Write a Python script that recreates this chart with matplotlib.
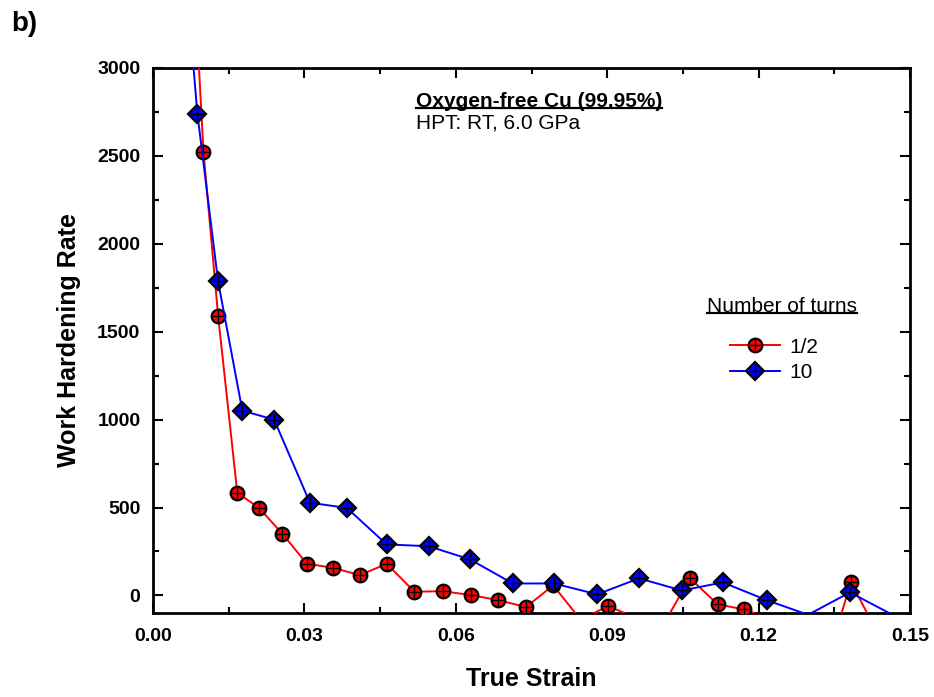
import matplotlib
matplotlib.use("Agg")
import matplotlib.pyplot as plt
from matplotlib.lines import Line2D
from matplotlib.legend_handler import HandlerTuple
from matplotlib.transforms import IdentityTransform
from matplotlib.ticker import MultipleLocator, FormatStrFormatter

plt.rcParams['font.family'] = ['Liberation Sans', 'DejaVu Sans']

# Data: 1/2 turn
strain_half = [0.0079, 0.0100, 0.0129, 0.0167, 0.0210, 0.0256, 0.0305, 0.0357, 0.0410,
               0.0463, 0.0518, 0.0574, 0.0630, 0.0684, 0.0739, 0.0793, 0.0847, 0.0902,
               0.0956, 0.1011, 0.1064, 0.1119, 0.1172, 0.1226, 0.1279, 0.1332, 0.1383, 0.1437]
whr_half = [3650, 2524, 1591, 584, 498, 352, 180, 157, 115,
            180, 21, 24, 2, -27, -66, 57, -137, -61,
            -126, -167, 98, -51, -80, -136, -300, -410, 76, -222]

# Data: 10 turns
strain_ten = [0.0068, 0.0088, 0.0129, 0.0177, 0.0240, 0.0311, 0.0384, 0.0463, 0.0546,
              0.0628, 0.0713, 0.0795, 0.0880, 0.0963, 0.1048, 0.1129, 0.1217, 0.1298,
              0.1381, 0.1464]
whr_ten = [3420, 2739, 1786, 1051, 1000, 527, 498, 290, 280,
           205, 68, 68, 6, 97, 28, 74, -28, -110,
           17, -108]

labels = ["1/2", "10"]

YMIN, YMAX = -100, 3000

W, H = 934, 697
fig = plt.figure(figsize=(W / 100, H / 100), dpi=100)
ax = fig.add_axes([153 / W, 1 - 613 / H, (910 - 153) / W, (613 - 68) / H])


def visible(xs, ys):
    pts = [(x, y) for x, y in zip(xs, ys) if YMIN <= y <= YMAX]
    return [p[0] for p in pts], [p[1] for p in pts]


series = [
    (strain_half, whr_half, '#FF0000', 'o', 9.8, 3),
    (strain_ten, whr_ten, '#0000FF', 'D', 8.8, 4),
]
handles = []
for xs, ys, col, mk, ms, z in series:
    ln, = ax.plot(xs, ys, color=col, lw=1.4, zorder=z)
    vx, vy = visible(xs, ys)
    mkr, = ax.plot(vx, vy, ls='none', marker=mk, ms=ms, mfc=col, mec='black',
                   mew=1.6, zorder=z + 0.1)
    pl, = ax.plot(vx, vy, ls='none', marker='+', ms=ms * 0.9, color='black',
                  mew=1.0, zorder=z + 0.2)
    handles.append((ln, mkr, pl))

ax.set_xlim(0, 0.15)
ax.set_ylim(YMIN, YMAX)
ax.xaxis.set_major_locator(MultipleLocator(0.03))
ax.xaxis.set_minor_locator(MultipleLocator(0.015))
ax.yaxis.set_major_locator(MultipleLocator(500))
ax.yaxis.set_minor_locator(MultipleLocator(250))
ax.xaxis.set_major_formatter(FormatStrFormatter('%.2f'))
ax.tick_params(which='both', direction='in', top=True, right=True, width=1.5)
ax.tick_params(which='major', length=7, labelsize=14)
ax.tick_params(axis='x', which='major', pad=11)
ax.tick_params(axis='y', which='major', pad=9)
ax.tick_params(which='minor', length=4)
for lab in ax.get_xticklabels() + ax.get_yticklabels():
    lab.set_fontweight('bold')
for sp in ax.spines.values():
    sp.set_linewidth(2)

ax.set_xlabel('True Strain', fontsize=18, fontweight='bold', labelpad=16)
ax.set_ylabel('Work Hardening Rate', fontsize=18, fontweight='bold', labelpad=12)

t1 = ax.text(0.347, 0.939, 'Oxygen-free Cu (99.95%)', transform=ax.transAxes,
             fontsize=15, fontweight='bold', ha='left', va='center')
ax.text(0.347, 0.899, 'HPT: RT, 6.0 GPa', transform=ax.transAxes,
        fontsize=15, ha='left', va='center')
t2 = ax.text(0.732, 0.563, 'Number of turns', transform=ax.transAxes,
             fontsize=15, ha='left', va='center')

leg = ax.legend(handles, labels,
                handler_map={tuple: HandlerTuple(ndivide=1, pad=0)},
                loc='upper left', bbox_to_anchor=(0.762, 0.505), frameon=False,
                fontsize=15, handlelength=2.4, handletextpad=0.45, labelspacing=0.32,
                borderpad=0, borderaxespad=0)

fig.text(11 / W, 1 - 24 / H, 'b)', fontsize=20, fontweight='bold', ha='left', va='center')

fig.canvas.draw()
for t in (t1, t2):
    bb = t.get_window_extent()
    y = bb.y0 + 3
    fig.add_artist(Line2D([bb.x0, bb.x1], [y, y], color='black', lw=1.6,
                          transform=IdentityTransform()))

fig.savefig('out.png', dpi=100, facecolor='white')
